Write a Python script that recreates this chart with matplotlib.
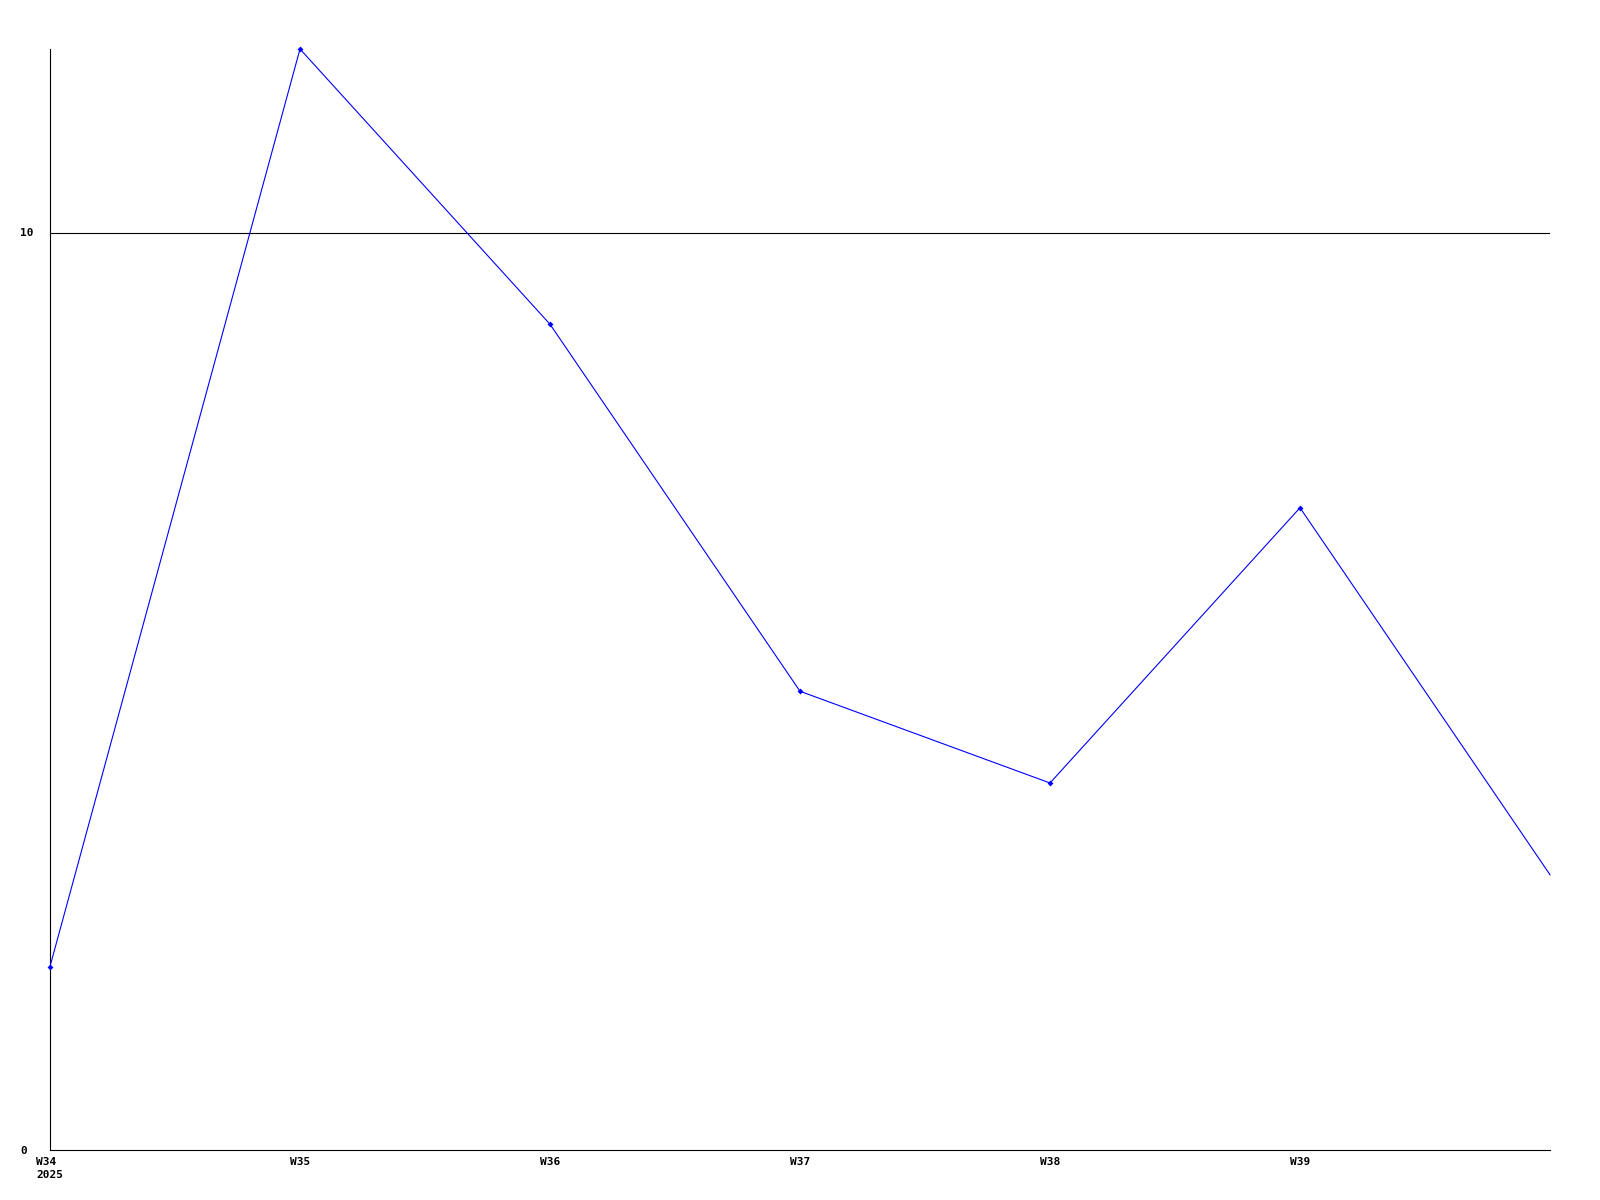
import matplotlib
matplotlib.use("Agg")
import matplotlib.pyplot as plt

weeks = ["W34\n2025", "W35", "W36", "W37", "W38", "W39", "W40"]
values = [2, 12, 9, 5, 4, 7, 3]
shown_labels = ["W34\n2025", "W35", "W36", "W37", "W38", "W39", ""]
y_ticks = [0, 10]

fig = plt.figure(figsize=(16, 12), dpi=100)
ax = fig.add_axes([50 / 1600, 50 / 1200, 1500 / 1600, 1101 / 1200])

x = list(range(len(weeks)))
# last point sits on the right edge, no marker there
ax.plot(x, values, color="#0000ff", linewidth=0.8, marker="D", markersize=3,
        markeredgewidth=0, markevery=list(range(len(x) - 1)),
        clip_on=False, zorder=3)

ax.set_xlim(0, len(weeks) - 1)
ax.set_ylim(0, 12)

ax.axhline(10, color="black", linewidth=0.8, zorder=1)

for side in ["top", "right"]:
    ax.spines[side].set_visible(False)
for side in ["left", "bottom"]:
    ax.spines[side].set_linewidth(0.8)
    ax.spines[side].set_color("black")

font = dict(family="DejaVu Sans Mono", weight="bold", size=8)

ax.set_yticks(y_ticks)
ax.set_yticklabels([str(v) for v in y_ticks], **font)
ax.tick_params(axis="y", length=0, pad=21.6)
for lbl in ax.get_yticklabels():
    lbl.set_horizontalalignment("left")

ax.set_xticks(x)
ax.set_xticklabels(shown_labels, **font)
ax.tick_params(axis="x", length=0, pad=5)
for lbl in ax.get_xticklabels():
    lbl.set_multialignment("left")
    lbl.set_linespacing(1.4)

fig.savefig("out.png", dpi=100, facecolor="white")
